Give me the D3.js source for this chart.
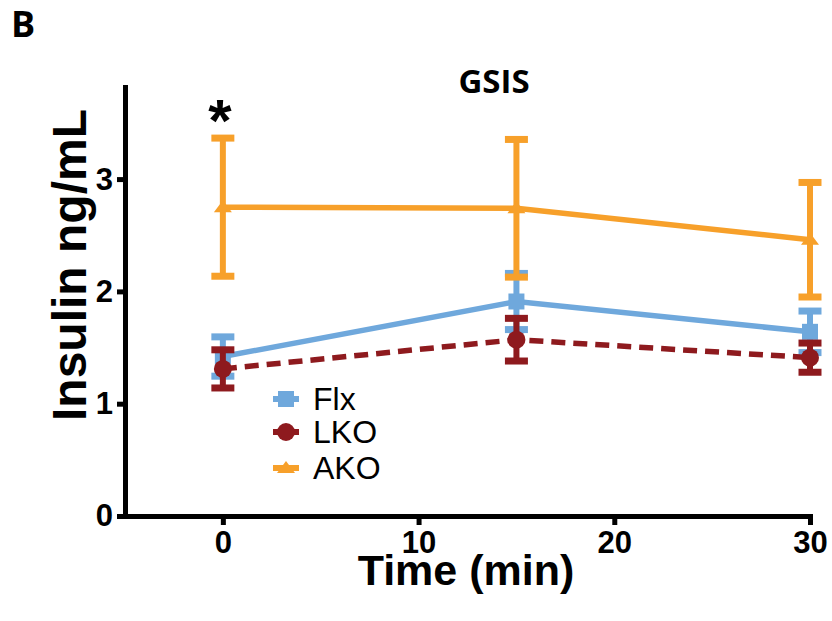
<!DOCTYPE html>
<html>
<head>
<meta charset="utf-8">
<script src="https://cdn.jsdelivr.net/npm/d3@7"></script>
<style>
  body { margin: 0; background: #fff; }
  svg { display: block; }
  .axis path, .axis line { stroke: #000; stroke-width: 5; stroke-linecap: square; }
  .axis text { font-family: "Liberation Sans", Arial, sans-serif; font-weight: bold; font-size: 31px; fill: #000; }
</style>
</head>
<body>
<svg id="chart"></svg>
<script>
// time points (min)
var times = [0, 15, 30];

// series means and error (SEM)
var flxMean = [1.42, 1.91, 1.64];
var flxErr  = [0.175, 0.25, 0.185];
var lkoMean = [1.31, 1.57, 1.41];
var lkoErr  = [0.17, 0.19, 0.13];
var akoMean = [2.75, 2.74, 2.46];
var akoErr  = [0.615, 0.613, 0.51];

var seriesNames = ["Flx", "LKO", "AKO"];
var xTicks = [0, 10, 20, 30];
var yTicks = [0, 1, 2, 3];

var colors = { Flx: "#6FA8DC", LKO: "#8E1A1E", AKO: "#F7A02A" };

var screen = { width: 832, height: 621 };

var svg = d3.select("#chart")
    .attr("width", screen.width)
    .attr("height", screen.height);

var xScale = d3.scaleLinear().domain([-5, 30]).range([125, 810]);
var yScale = d3.scaleLinear().domain([0, 3.82]).range([516, 87]);

var series = [
    { name: "Flx", mean: flxMean, err: flxErr, dash: null, marker: "square" },
    { name: "LKO", mean: lkoMean, err: lkoErr, dash: "14,8", marker: "circle" },
    { name: "AKO", mean: akoMean, err: akoErr, dash: null, marker: "triangle" }
];

// axes
svg.append("g")
    .classed("axis", true)
    .attr("transform", "translate(0,516)")
    .call(d3.axisBottom(xScale).tickValues(xTicks).tickFormat(d3.format("d"))
        .tickSize(9).tickPadding(6).tickSizeOuter(0))
    .selectAll("line").style("stroke-linecap", "butt");

svg.append("g")
    .classed("axis", true)
    .attr("transform", "translate(125,0)")
    .call(d3.axisLeft(yScale).tickValues(yTicks).tickFormat(d3.format("d"))
        .tickSize(8).tickPadding(4).tickSizeOuter(0))
    .selectAll("line").style("stroke-linecap", "butt");

var markerSymbol = function(kind, size) {
    if (kind === "square") return d3.symbol(d3.symbolSquare, size)();
    if (kind === "circle") return d3.symbol(d3.symbolCircle, size)();
    return "M0,-7L9,5L-9,5Z";
};

// draw each series: line, error bars, markers
series.forEach(function(s) {
    var pts = times.map(function(t, i) { return { t: t, m: s.mean[i], e: s.err[i] }; });
    var g = svg.append("g").classed("series", true);

    g.append("path")
        .datum(pts)
        .attr("fill", "none")
        .attr("stroke", colors[s.name])
        .attr("stroke-width", 5.5)
        .attr("stroke-dasharray", s.dash)
        .attr("d", d3.line().x(function(d) { return xScale(d.t); }).y(function(d) { return yScale(d.m); }));

    var eb = g.selectAll(".eb").data(pts).enter().append("g");
    eb.append("line")
        .attr("x1", function(d) { return xScale(d.t); })
        .attr("x2", function(d) { return xScale(d.t); })
        .attr("y1", function(d) { return yScale(d.m + d.e); })
        .attr("y2", function(d) { return yScale(d.m - d.e); })
        .attr("stroke", colors[s.name])
        .attr("stroke-width", 6);
    [1, -1].forEach(function(sign) {
        eb.append("line")
            .attr("x1", function(d) { return xScale(d.t) - 11.5; })
            .attr("x2", function(d) { return xScale(d.t) + 11.5; })
            .attr("y1", function(d) { return yScale(d.m + sign * d.e); })
            .attr("y2", function(d) { return yScale(d.m + sign * d.e); })
            .attr("stroke", colors[s.name])
            .attr("stroke-width", 7);
    });

    g.selectAll(".mk").data(pts).enter().append("path")
        .attr("transform", function(d) { return "translate(" + xScale(d.t) + "," + yScale(d.m) + ")"; })
        .attr("d", markerSymbol(s.marker, s.marker === "square" ? 256 : 254))
        .attr("fill", colors[s.name]);
});

// legend
var legend = svg.append("g").attr("transform", "translate(286,399)");
series.forEach(function(s, i) {
    var row = legend.append("g").attr("transform", "translate(0," + [0, 33, 69][i] + ")");
    row.append("line")
        .attr("x1", -13).attr("x2", 13)
        .attr("stroke", colors[s.name]).attr("stroke-width", 6);
    row.append("path")
        .attr("d", markerSymbol(s.marker, s.marker === "square" ? 256 : 254))
        .attr("fill", colors[s.name]);
    row.append("text")
        .attr("x", 27).attr("y", 11)
        .style("font-family", "'Liberation Sans', Arial, sans-serif")
        .style("font-size", "32px")
        .text(s.name);
});

// labels
svg.append("text")
    .attr("x", 466).attr("y", 585)
    .attr("text-anchor", "middle")
    .style("font-family", "'Liberation Sans', Arial, sans-serif")
    .style("font-weight", "bold").style("font-size", "43px")
    .text("Time (min)");

svg.append("g")
    .attr("transform", "translate(86,265)")
    .append("text")
    .attr("transform", "rotate(-90)")
    .attr("text-anchor", "middle")
    .style("font-family", "'Liberation Sans', Arial, sans-serif")
    .style("font-weight", "bold").style("font-size", "48px")
    .text("Insulin ng/mL");

svg.append("text")
    .attr("x", 494).attr("y", 93)
    .attr("text-anchor", "middle")
    .style("font-family", "'Open Sans', sans-serif")
    .style("font-weight", "bold").style("font-size", "33px")
    .text("GSIS");

svg.append("text")
    .attr("x", 11).attr("y", 37)
    .style("font-family", "'Open Sans', sans-serif")
    .style("font-weight", "bold").style("font-size", "36px")
    .text("B");

svg.append("text")
    .attr("x", xScale(0) - 3).attr("y", 141)
    .attr("text-anchor", "middle")
    .style("font-family", "'Liberation Sans', Arial, sans-serif")
    .style("font-weight", "bold").style("font-size", "60px")
    .text("*");
</script>
</body>
</html>
